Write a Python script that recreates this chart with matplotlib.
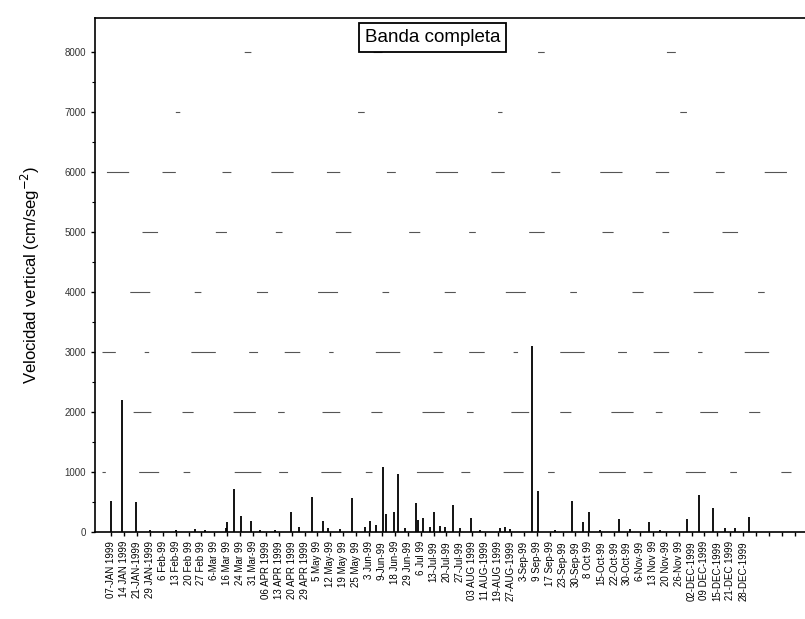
import numpy as np
import matplotlib
matplotlib.use("Agg")
import matplotlib.pyplot as plt

plt.rcParams['font.family'] = ['Liberation Sans', 'DejaVu Sans']

# fecha de cada marca del eje x (una por semana aprox.)
fechas = ['07-JAN 1999', '14 JAN 1999', '21-JAN-1999', '29 JAN-1999', '6 Feb-99',
          '13 Feb-99', '20 Feb 99', '27 Feb 99', '6-Mar 99', '16 Mar 99',
          '24 Mar 99', '31 Mar-99', '06 APR 1999', '13 APR 1999', '20 APR 1999',
          '29 APR 1999', '5 May 99', '12 May-99', '19 May 99', '25 May 99',
          '3 Jun-99', '9-Jun-99', '18 Jun-99', '29 Jun-99', '6 Jul 99',
          '13-Jul-99', '20-Jul-99', '27-Jul-99', '03 AUG 1999', '11 AUG-1999',
          '19-AUG 1999', '27-AUG-1999', '3-Sep-99', '9 Sep-99', '17 Sep-99',
          '23-Sep-99', '30-Sep-99', '8 Oct 99', '15-Oct-99', '22-Oct-99',
          '30-Oct-99', '6-Nov-99', '13 Nov 99', '20 Nov-99', '26-Nov 99',
          '02-DEC-1999', '09 DEC-1999', '15-DEC-1999', '21-DEC 1999', '28-DEC-1999']
n_extra = 4  # marcas sin etiqueta al final

# eventos: posicion (en unidades de marca) y velocidad vertical (cm/seg^-2)
pos = [0.0, 0.85, 1.94, 3.0, 5.0, 6.5, 7.3, 8.9, 9.0, 9.5, 10.1, 10.85, 11.55, 12.7,
       13.95, 14.6, 15.6, 16.4, 16.8, 17.75, 18.7, 19.7, 20.1, 20.5, 21.1, 21.3,
       21.9, 22.25, 22.8, 23.65, 23.8, 24.2, 24.7, 25.0, 25.5, 25.9, 26.5, 27.05,
       27.9, 28.6, 30.15, 30.55, 30.9, 32.6, 33.1, 34.4, 35.75, 36.6, 37.05, 37.9,
       39.4, 40.2, 41.7, 42.55, 44.65, 45.6, 46.65, 47.6, 48.4, 49.45]
vel = [520, 2200, 500, 30, 40, 50, 40, 60, 160, 720, 260, 190, 30, 40,
       330, 80, 590, 180, 60, 50, 560, 80, 180, 120, 1080, 300,
       340, 960, 60, 480, 200, 230, 80, 330, 100, 90, 450, 60,
       240, 40, 60, 80, 50, 3100, 680, 40, 520, 170, 340, 40,
       220, 50, 170, 40, 220, 620, 400, 60, 70, 250]

yticks = [0, 1000, 2000, 3000, 4000, 5000, 6000, 7000, 8000]

# trazo entrecortado de cada linea de referencia (restos del escaneo)
grid_dash = {
    1000: (5, (8, 30, 18, 22, 6, 40, 24, 16)),
    2000: (12, (6, 34, 16, 28, 10, 36, 20, 20)),
    3000: (2, (14, 26, 4, 38, 22, 30, 8, 24)),
    4000: (30, (10, 45, 18, 40, 6, 50)),
    5000: (18, (6, 48, 14, 52, 10, 44)),
    6000: (40, (8, 36, 20, 30, 12, 42)),
    7000: (60, (6, 120, 4, 160)),
    8000: (20, (8, 140, 6, 110)),
}

fig = plt.figure(figsize=(8.05, 6.19), dpi=100)
ax = fig.add_axes([95/805, 87/619, 710/805, 514/619])

for yv in yticks[1:]:
    ax.axhline(yv, color='#555555', lw=0.8, zorder=1, xmin=0.01, xmax=0.98,
               linestyle=grid_dash[yv])

ax.vlines(pos, 0, vel, color='black', lw=1.3, zorder=3)

ax.set_xlim(-1.25, len(fechas) + n_extra - 0.2)
ax.set_ylim(0, 8560)

ax.set_xticks(np.arange(len(fechas) + n_extra))
ax.set_xticklabels(fechas + [''] * n_extra, rotation=90, fontsize=7)
ax.set_yticks(yticks)
ax.set_yticklabels([str(v) for v in yticks], fontsize=7, color='#333333')
ax.set_yticks(np.arange(500, 8500, 1000), minor=True)

ax.tick_params(axis='both', which='major', direction='out', length=3, width=1)
ax.tick_params(axis='y', which='minor', direction='out', length=2, width=0.8)
ax.spines['right'].set_visible(False)
for s in ['left', 'bottom', 'top']:
    ax.spines[s].set_linewidth(1.2)

ax.set_ylabel(r'Velocidad vertical (cm/seg$^{-2}$)', fontsize=12, labelpad=16)

ax.text(0.475, 0.963, 'Banda completa', transform=ax.transAxes, fontsize=13.5,
        ha='center', va='center',
        bbox=dict(boxstyle='square,pad=0.32', fc='white', ec='black', lw=1.3))

fig.savefig('out.png', dpi=100)
